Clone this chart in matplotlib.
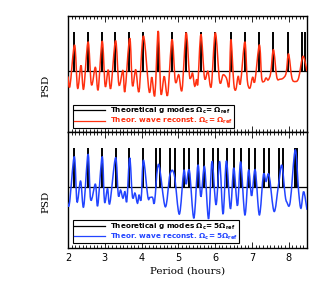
import matplotlib
matplotlib.use("Agg")
import matplotlib.pyplot as plt
from matplotlib.path import Path
from matplotlib.patches import PathPatch
from matplotlib.lines import Line2D
from matplotlib.ticker import MultipleLocator

plt.rcParams['mathtext.default'] = 'bf'

# theoretical g-mode periods (hours)
modes_slow = [2.170, 2.545, 2.915, 3.285, 3.658, 4.047, 4.436, 4.827, 5.219,
              5.614, 6.005, 6.420, 6.805, 7.197, 7.586, 7.986, 8.362, 8.444]
modes_fast = [2.170, 2.553, 2.923, 3.293, 3.663, 4.041, 4.403, 4.499, 4.773,
              4.910, 5.156, 5.293, 5.548, 5.685, 5.930, 6.070, 6.310, 6.507,
              6.700, 6.918, 7.082, 7.329, 7.477, 7.740, 7.841, 8.160, 8.215]

# wave reconstruction, slow rotation (period, psd)
rec_slow_p = [2.000, 2.052, 2.178, 2.260, 2.353, 2.425, 2.545, 2.636, 2.745, 2.819,
              2.929, 3.011, 3.093, 3.164, 3.293, 3.384, 3.493, 3.548, 3.677, 3.751,
              3.841, 3.932, 4.050, 4.205, 4.279, 4.362, 4.452, 4.526, 4.616, 4.710,
              4.827, 4.918, 5.011, 5.101, 5.211, 5.301, 5.348, 5.389, 5.444, 5.499,
              5.532, 5.614, 5.712, 5.805, 5.896, 6.005, 6.123, 6.216, 6.307, 6.381,
              6.430, 6.507, 6.562, 6.627, 6.690, 6.808, 6.874, 6.945, 7.019, 7.082,
              7.203, 7.266, 7.329, 7.384, 7.444, 7.512, 7.586, 7.677, 7.767, 7.855,
              7.932, 7.997, 8.088, 8.178, 8.271, 8.389, 8.499]
rec_slow_v = [-0.13, -0.38, 0.67, -0.43, 0.15, -0.45, 0.75, -0.34, 0.10, -0.47,
              0.77, -0.38, 0.04, -0.43, 0.78, -0.34, 0.02, -0.51, 0.84, -0.36,
              0.04, -0.51, 0.90, -0.51, -0.15, -0.60, 1.03, -0.56, -0.13, -0.60,
              0.81, -0.26, -0.09, -0.47, 0.98, -0.09, -0.15, -0.05, -0.38, -0.20,
              -0.30, 0.94, -0.17, 0.00, -0.38, 0.98, -0.26, -0.09, -0.17, -0.36,
              0.81, -0.30, -0.47, -0.13, -0.30, 0.75, -0.22, -0.43, -0.15, -0.25,
              0.67, -0.17, -0.26, -0.17, -0.22, -0.04, 0.55, -0.15, -0.20, -0.17,
              -0.04, 0.44, -0.17, -0.26, -0.17, 0.38, 0.00]

# wave reconstruction, fast rotation (period, psd)
rec_fast_p = [1.950, 2.033, 2.170, 2.244, 2.342, 2.425, 2.545, 2.616, 2.745, 2.808,
              2.929, 2.992, 3.074, 3.137, 3.293, 3.367, 3.430, 3.493, 3.548, 3.600,
              3.677, 3.751, 3.822, 3.888, 3.932, 3.990, 4.050, 4.170, 4.225, 4.299,
              4.353, 4.463, 4.644, 4.773, 4.890, 5.027, 5.148, 5.211, 5.301, 5.422,
              5.532, 5.614, 5.712, 5.822, 5.915, 6.025, 6.123, 6.216, 6.307, 6.416,
              6.507, 6.608, 6.695, 6.810, 6.910, 6.992, 7.090, 7.203, 7.312, 7.384,
              7.466, 7.603, 7.723, 7.814, 7.904, 7.951, 8.041, 8.178, 8.271, 8.334,
              8.408, 8.499]
rec_fast_v = [-0.20, -0.45, 0.79, -0.37, 0.16, -0.50, 0.85, -0.32, 0.08, -0.47,
              0.79, -0.37, -0.03, -0.41, 0.76, -0.20, -0.07, -0.28, -0.11, -0.35,
              0.76, -0.24, -0.15, -0.41, -0.20, -0.30, 0.70, -0.24, -0.26, -0.26,
              -0.38, 0.59, -0.50, 0.33, 0.32, -0.69, 0.42, 0.08, 0.43, -0.79,
              0.57, -0.24, 0.53, -0.81, 0.66, -0.45, 0.66, -0.69, 0.68, -0.55,
              0.50, -0.47, 0.65, -0.71, 0.44, -0.22, 0.45, -0.71, 0.32, 0.15,
              0.32, -0.62, 0.06, 0.57, -0.20, -0.38, -0.38, 0.96, -0.11, -0.54,
              -0.11, -0.58]

red = '#ff3010'
blue = '#2244ff'


def smooth_path(xs, ys):
    # Catmull-Rom through the read points, drawn as cubic Bezier pieces
    pts = list(zip(xs, ys))
    verts = [pts[0]]
    codes = [Path.MOVETO]
    n = len(pts)
    for i in range(n - 1):
        p0 = pts[max(i - 1, 0)]
        p1 = pts[i]
        p2 = pts[i + 1]
        p3 = pts[min(i + 2, n - 1)]
        c1 = (p1[0] + (p2[0] - p0[0]) / 6, p1[1] + (p2[1] - p0[1]) / 6)
        c2 = (p2[0] - (p3[0] - p1[0]) / 6, p2[1] - (p3[1] - p1[1]) / 6)
        verts += [c1, c2, p2]
        codes += [Path.CURVE4] * 3
    return Path(verts, codes)


fig = plt.figure(figsize=(3.27, 2.84), dpi=100)
ax1 = fig.add_axes([0.208, 0.5335, 0.731, 0.4102])
ax2 = fig.add_axes([0.208, 0.1268, 0.731, 0.4067])

panels = [
    (ax1, modes_slow, rec_slow_p, rec_slow_v, red,
     r'Theoretical g modes $\Omega_c$= $\Omega_{ref}$',
     r'Theor. wave reconst. $\Omega_c$= $\Omega_{ref}$'),
    (ax2, modes_fast, rec_fast_p, rec_fast_v, blue,
     r'Theoretical g modes $\Omega_c$= 5$\Omega_{ref}$',
     r'Theor. wave reconst. $\Omega_c$= 5$\Omega_{ref}$'),
]

for ax, modes, px, pv, col, lab1, lab2 in panels:
    ax.axhline(0, color='k', lw=0.9, zorder=1)
    ax.vlines(modes, 0, 1, color='k', lw=1.4, zorder=2)
    ax.add_patch(PathPatch(smooth_path(px, pv), facecolor='none', edgecolor=col,
                           lw=1.1, zorder=3, clip_on=True))
    ax.set_xlim(2, 8.5)
    ax.set_ylim(-1.56, 1.41)
    ax.set_yticks([])
    ax.xaxis.set_major_locator(MultipleLocator(1))
    ax.xaxis.set_minor_locator(MultipleLocator(0.1))
    ax.tick_params(axis='x', which='both', direction='in', top=True, bottom=True, width=0.6)
    ax.tick_params(axis='x', which='major', length=4)
    ax.tick_params(axis='x', which='minor', length=2.2)
    for s in ax.spines.values():
        s.set_linewidth(1.0)
    ax.set_ylabel('PSD', family='DejaVu Serif', fontsize=7.5)
    ax.yaxis.set_label_coords(-0.075, 0.40)
    handles = [Line2D([], [], color='k', lw=0.9), Line2D([], [], color=col, lw=0.9)]
    leg = ax.legend(handles, [lab1, lab2], loc='lower left',
                    bbox_to_anchor=(0.02, 0.04), borderaxespad=0,
                    prop={'weight': 'bold', 'size': 5.2},
                    handlelength=4.2, handletextpad=0.7, borderpad=0.2,
                    labelspacing=0.0, fancybox=False, framealpha=1,
                    edgecolor='k')
    leg.get_frame().set_linewidth(0.8)
    leg.get_texts()[1].set_color(col)

ax1.tick_params(axis='x', labelbottom=False)
ax2.tick_params(axis='x', labelsize=7)
ax2.set_xlabel('Period (hours)', family='DejaVu Serif', fontsize=7.5, labelpad=3)

fig.savefig('out.png', dpi=100)
